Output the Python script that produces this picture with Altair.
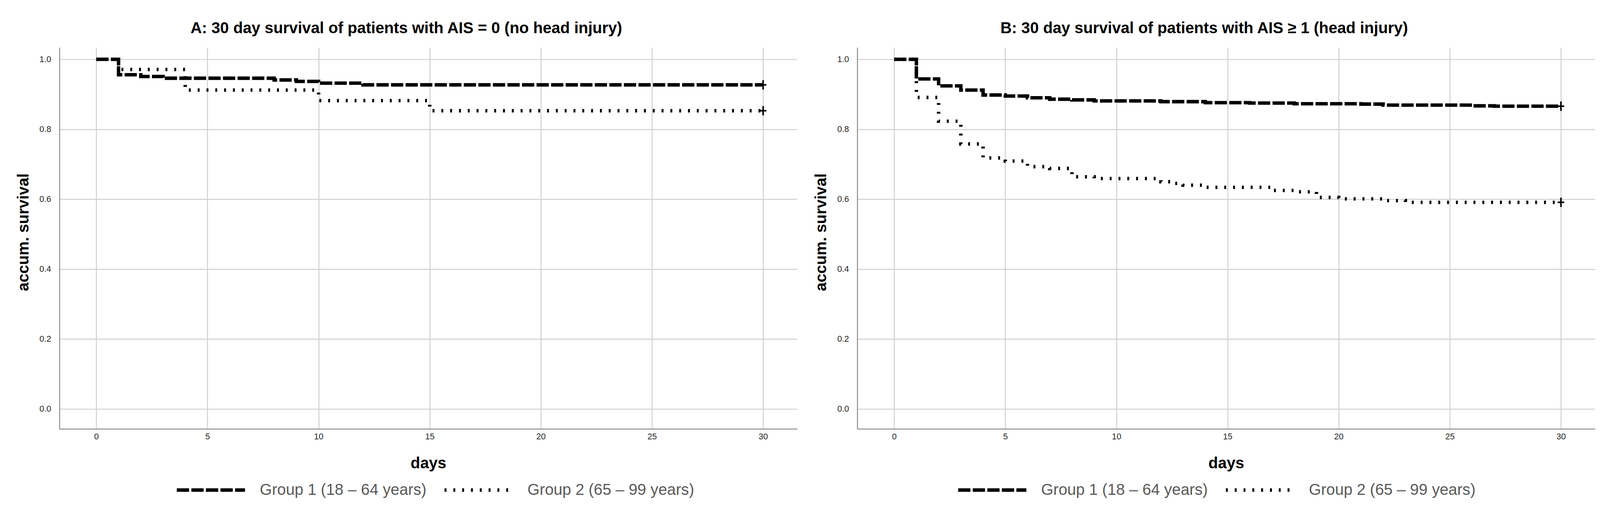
import altair as alt
import pandas as pd

GROUPS = ["Group 1 (18 – 64 years)", "Group 2 (65 – 99 years)"]

# Panel A: AIS = 0 (no head injury)
A_g1_days = [0, 1, 2, 3, 8, 9, 10, 12, 30]
A_g1_surv = [1.0, 0.956, 0.951, 0.946, 0.941, 0.937, 0.932, 0.927, 0.927]
A_g2_days = [0, 1, 4, 10, 15, 30]
A_g2_surv = [1.0, 0.971, 0.912, 0.882, 0.853, 0.853]

# Panel B: AIS >= 1 (head injury)
B_g1_days = [0, 1, 2, 3, 4, 5, 6, 7, 8, 9, 12, 14, 16, 18, 21, 22, 26, 27, 30]
B_g1_surv = [1.0, 0.944, 0.924, 0.912, 0.898, 0.895, 0.890, 0.886, 0.884, 0.881,
             0.879, 0.876, 0.875, 0.873, 0.872, 0.869, 0.867, 0.866, 0.866]
B_g2_days = [0, 1, 2, 3, 4, 5, 6, 7, 8, 9, 12, 12.5, 13, 14, 17, 18, 19, 20, 22, 23, 30]
B_g2_surv = [1.0, 0.891, 0.823, 0.758, 0.718, 0.709, 0.693, 0.688, 0.664, 0.659,
             0.650, 0.645, 0.640, 0.634, 0.625, 0.621, 0.605, 0.601, 0.596, 0.591, 0.591]

X_TICKS = [0, 5, 10, 15, 20, 25, 30]
Y_TICKS = [0.0, 0.2, 0.4, 0.6, 0.8, 1.0]

FONT = "Liberation Sans"
W, H = 1926, 996


def frame(d1, s1, d2, s2):
    a = pd.DataFrame({"day": d1, "surv": s1, "group": GROUPS[0]})
    b = pd.DataFrame({"day": d2, "surv": s2, "group": GROUPS[1]})
    return pd.concat([a, b], ignore_index=True)


def censored(d1, s1, d2, s2):
    return pd.DataFrame({"day": [d1[-1], d2[-1]], "surv": [s1[-1], s2[-1]],
                         "group": GROUPS})


def panel(df, cens, title, legend_x):
    x = alt.X("day:Q",
              scale=alt.Scale(domain=[-1.66, 31.53], nice=False, zero=False),
              axis=alt.Axis(values=X_TICKS, format="d", title="days",
                            labelPadding=10, titlePadding=39))
    y = alt.Y("surv:Q",
              scale=alt.Scale(domain=[-0.057, 1.034], nice=False, zero=False),
              axis=alt.Axis(values=Y_TICKS, format=".1f", title="accum. survival",
                            labelPadding=22, titlePadding=20, titleY=482))
    lines = alt.Chart(df).mark_line(
        interpolate="step-after", color="black", strokeWidth=9, strokeCap="butt"
    ).encode(
        x=x, y=y,
        strokeDash=alt.StrokeDash(
            "group:N",
            scale=alt.Scale(domain=GROUPS, range=[[32, 6], [5, 18]]),
            legend=alt.Legend(
                title=None, orient="none", legendX=legend_x, legendY=1062,
                direction="horizontal", symbolType="stroke", symbolSize=31684,
                symbolStrokeWidth=9, symbolStrokeColor="black",
                labelFont=FONT, labelFontSize=41, labelColor="#595959",
                labelOffset=34, columnPadding=28, padding=0,
                labelLimit=1000,
            ),
        ),
    )
    marks = alt.Chart(cens).mark_point(
        shape="M -0.7 0 L 0.7 0 M 0 -1 L 0 1", filled=False, color="black",
        strokeWidth=4, size=600, opacity=1
    ).encode(x="day:Q", y="surv:Q")
    return alt.layer(lines, marks).properties(
        width=W, height=H,
        title=alt.TitleParams(title, font=FONT, fontSize=41, fontWeight="bold",
                              color="black", anchor="middle", frame="bounds",
                              offset=28),
    )


pA = panel(frame(A_g1_days, A_g1_surv, A_g2_days, A_g2_surv),
           censored(A_g1_days, A_g1_surv, A_g2_days, A_g2_surv),
           "A: 30 day survival of patients with AIS = 0 (no head injury)", 302)
pB = panel(frame(B_g1_days, B_g1_surv, B_g2_days, B_g2_surv),
           censored(B_g1_days, B_g1_surv, B_g2_days, B_g2_surv),
           "B: 30 day survival of patients with AIS ≥ 1 (head injury)", 259)

chart = alt.hconcat(pA, pB, spacing=42).resolve_scale(
    strokeDash="independent"
).resolve_legend(strokeDash="independent").properties(
    padding={"top": 33, "left": 32, "right": 5, "bottom": 5},
    background="white",
).configure_view(stroke=None).configure_axis(
    domainColor="#8c8c8c", domainWidth=2.5, ticks=False, tickSize=0,
    grid=True, gridColor="#cfcfcf", gridWidth=2.5,
    labelFont=FONT, labelFontSize=22, labelColor="#262626",
    titleFont=FONT, titleFontSize=41, titleFontWeight="bold", titleColor="black",
)

chart.save("out.html", embed_options={"renderer": "svg", "actions": False})
